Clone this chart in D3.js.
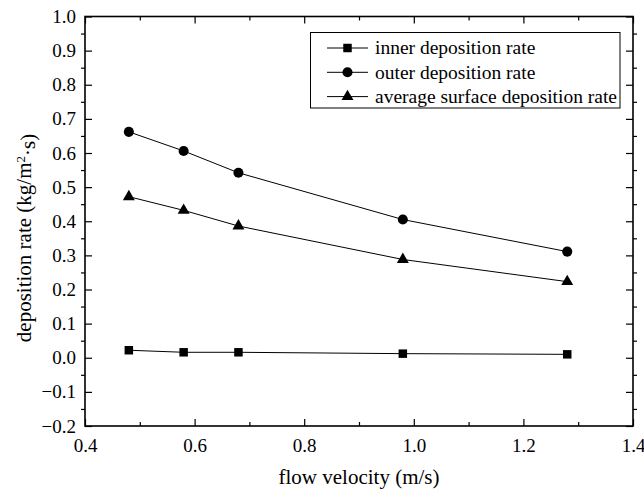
<!DOCTYPE html>
<html>
<head>
<meta charset="utf-8">
<script src="https://cdn.jsdelivr.net/npm/d3@7"></script>
<style>
  body { margin: 0; background: #fff; }
  svg text { font-family: "Liberation Serif", "Times New Roman", serif; fill: #000; }
</style>
</head>
<body>
<div id="chart"></div>
<script>
// flow velocity (m/s)
const velocity = [0.48, 0.58, 0.68, 0.98, 1.28];
// deposition rates (kg/m2.s)
const innerRate = [0.022, 0.016, 0.016, 0.012, 0.010];
const outerRate = [0.662, 0.606, 0.542, 0.405, 0.311];
const averageRate = [0.472, 0.432, 0.386, 0.288, 0.223];
const seriesNames = ["inner deposition rate", "outer deposition rate", "average surface deposition rate"];
const xTicks = [0.4, 0.6, 0.8, 1.0, 1.2, 1.4];
const yTicks = [-0.2, -0.1, 0.0, 0.1, 0.2, 0.3, 0.4, 0.5, 0.6, 0.7, 0.8, 0.9, 1.0];

const W = 644, H = 489;
const margin = { top: 16.5, right: 11, bottom: 63, left: 85 };
const width = W - margin.left - margin.right;
const height = H - margin.top - margin.bottom;

const svg = d3.select("#chart").append("svg")
  .attr("width", W).attr("height", H);
const g = svg.append("g").attr("transform", `translate(${margin.left},${margin.top})`);

const x = d3.scaleLinear().domain([0.4, 1.4]).range([0, width]);
const y = d3.scaleLinear().domain([-0.2, 1.0]).range([height, 0]);

const xMinor = d3.range(0.5, 1.4, 0.2);
const yMinor = d3.range(-0.15, 1.0, 0.1);

// axes: major ticks inward, minor ticks on y axes outward
const fmt = d3.format(".1f");
function styleAxis(sel) {
  sel.attr("font-family", null).attr("font-size", null);
  sel.select(".domain").remove();
  sel.selectAll("line").attr("stroke", "#000").attr("stroke-width", 1.2);
  sel.selectAll("text").style("font-size", "19px");
}
g.append("g").attr("transform", `translate(0,${height})`)
  .call(d3.axisBottom(x).tickValues(xTicks).tickFormat(fmt).tickSizeInner(-7).tickSizeOuter(0).tickPadding(13))
  .call(styleAxis);
g.append("g").attr("transform", `translate(0,${height})`)
  .call(d3.axisBottom(x).tickValues(xMinor).tickFormat("").tickSizeInner(-4).tickSizeOuter(0))
  .call(styleAxis);
g.append("g")
  .call(d3.axisLeft(y).tickValues(yTicks).tickFormat(fmt).tickSizeInner(-7).tickSizeOuter(0).tickPadding(9))
  .call(styleAxis);
g.append("g")
  .call(d3.axisLeft(y).tickValues(yMinor).tickFormat("").tickSizeInner(4).tickSizeOuter(0))
  .call(styleAxis);
g.append("g")
  .call(d3.axisTop(x).tickValues(xTicks).tickFormat("").tickSizeInner(-7).tickSizeOuter(0))
  .call(styleAxis);
g.append("g")
  .call(d3.axisTop(x).tickValues(xMinor).tickFormat("").tickSizeInner(-4).tickSizeOuter(0))
  .call(styleAxis);
g.append("g").attr("transform", `translate(${width},0)`)
  .call(d3.axisRight(y).tickValues(yTicks).tickFormat("").tickSizeInner(-7).tickSizeOuter(0))
  .call(styleAxis);
g.append("g").attr("transform", `translate(${width},0)`)
  .call(d3.axisRight(y).tickValues(yMinor).tickFormat("").tickSizeInner(4).tickSizeOuter(0))
  .call(styleAxis);

// frame
g.append("rect").attr("width", width).attr("height", height)
  .attr("fill", "none").attr("stroke", "#000").attr("stroke-width", 1.6);

// series
const symbols = [d3.symbolSquare, d3.symbolCircle, d3.symbolTriangle];
const symSizes = [72, 80, 62];
const series = [innerRate, outerRate, averageRate].map((vals, i) => ({
  name: seriesNames[i],
  symbol: symbols[i],
  size: symSizes[i],
  points: velocity.map((v, j) => ({ x: v, y: vals[j] }))
}));

const line = d3.line().x(d => x(d.x)).y(d => y(d.y));

series.forEach(s => {
  g.append("path").datum(s.points)
    .attr("d", line).attr("fill", "none")
    .attr("stroke", "#000").attr("stroke-width", 1);
  g.selectAll(null).data(s.points).enter().append("path")
    .attr("transform", d => `translate(${x(d.x)},${y(d.y)})`)
    .attr("d", d3.symbol().type(s.symbol).size(s.size))
    .attr("fill", "#000");
});

// legend
const lg = svg.append("g").attr("transform", "translate(310.5,32.5)");
lg.append("rect").attr("width", 309.5).attr("height", 75.5)
  .attr("fill", "#fff").attr("stroke", "#000").attr("stroke-width", 1);
series.forEach((s, i) => {
  const yy = 15.5 + i * 24.3;
  lg.append("line").attr("x1", 16.5).attr("x2", 57.5).attr("y1", yy).attr("y2", yy)
    .attr("stroke", "#000").attr("stroke-width", 1);
  lg.append("path").attr("transform", `translate(37,${yy})`)
    .attr("d", d3.symbol().type(s.symbol).size(s.size)).attr("fill", "#000");
  lg.append("text").attr("x", 64.5).attr("y", yy).attr("dy", "0.32em")
    .style("font-size", "19.5px").text(s.name);
});

// axis titles
svg.append("text")
  .attr("x", margin.left + width / 2).attr("y", 484)
  .attr("text-anchor", "middle").style("font-size", "21px")
  .text("flow velocity (m/s)");

const yt = svg.append("text")
  .attr("transform", "translate(31,238) rotate(-90)")
  .attr("text-anchor", "middle").style("font-size", "21px");
yt.append("tspan").text("deposition rate (kg/m");
yt.append("tspan").attr("dy", "-0.45em").style("font-size", "13px").text("2");
yt.append("tspan").attr("dy", "0.45em").text("\u00b7s)");
</script>
</body>
</html>
